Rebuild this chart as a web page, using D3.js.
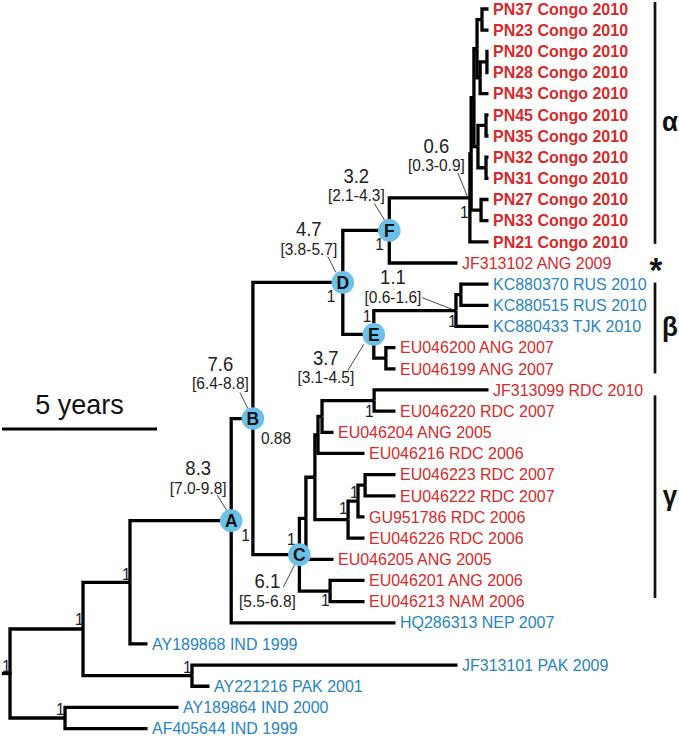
<!DOCTYPE html>
<html><head><meta charset="utf-8">
<script src="https://cdn.jsdelivr.net/npm/d3@7"></script>
<style>body{margin:0;background:#fff} svg{display:block}</style>
</head><body><svg id="chart" width="679" height="737"></svg>
<script>
// ---------------- DATA ----------------
const tipNames = [
  "PN37 Congo 2010","PN23 Congo 2010","PN20 Congo 2010","PN28 Congo 2010","PN43 Congo 2010",
  "PN45 Congo 2010","PN35 Congo 2010","PN32 Congo 2010","PN31 Congo 2010","PN27 Congo 2010",
  "PN33 Congo 2010","PN21 Congo 2010","JF313102 ANG 2009","KC880370 RUS 2010","KC880515 RUS 2010",
  "KC880433 TJK 2010","EU046200 ANG 2007","EU046199 ANG 2007","JF313099 RDC 2010","EU046220 RDC 2007",
  "EU046204 ANG 2005","EU046216 RDC 2006","EU046223 RDC 2007","EU046222 RDC 2007","GU951786 RDC 2006",
  "EU046226 RDC 2006","EU046205 ANG 2005","EU046201 ANG 2006","EU046213 NAM 2006","HQ286313 NEP 2007",
  "AY189868 IND 1999","JF313101 PAK 2009","AY221216 PAK 2001","AY189864 IND 2000","AF405644 IND 1999"
];
const tipYears = [
  2010,2010,2010,2010,2010, 2010,2010,2010,2010,2010,
  2010,2010,2009,2010,2010, 2010,2007,2007,2010,2007,
  2005,2006,2007,2007,2006, 2006,2005,2006,2006,2007,
  1999,2009,2001,2000,1999
];
const tipParents = [
  "n37_23","n37_23","n20_28","n20_28","n2043",
  "n45_35","n45_35","n32_31","n32_31","H",
  "H","alpha","F","KC2","KC2",
  "KC","EE","EE","Q","Q",
  "P","R","S3","S3","S2",
  "S","U","V","V","A",
  "N2","N4","N4","N5","N5"
];
const tipGroups = [
  "congo","congo","congo","congo","congo","congo","congo","congo","congo","congo",
  "congo","congo","red","blue","blue","blue","red","red","red","red",
  "red","red","red","red","red","red","red","red","red","blue",
  "blue","blue","blue","blue","blue"
];
const nodeIds     = ["root","Ntop","N5","N2","N4","A","B","C","D","E","F","alpha","X","G1","G2","n37_23","n2043","n20_28","G3","n45_35","n32_31","H","KC","KC2","EE","U","T","R","P","Q","S","S2","S3","V"];
const nodeParents = ["",    "root","root","Ntop","Ntop","N2","A","B","B","D","D","F","alpha","X","G1","G2","G2","n2043","G1","G3","G3","X","E","KC","E","C","U","T","R","P","T","S","S2","C"];
const nodeYears   = [1994.565,1996.92,1996.34,1998.435,2000.435,2001.7,2002.4,2003.9,2005.3,2006.3,2006.8,2009.4,2009.44,2009.53,2009.63,2009.79,2009.73,2009.95,2009.66,2009.92,2009.92,2009.76,2008.95,2009.11,2006.69,2004.11,2004.4,2004.5,2004.63,2006.31,2005.47,2005.79,2006.02,2004.89];

const circleNodes = ["A","B","C","D","E","F"];
const ageNodes = ["alpha","F","D","KC","E","B","A","C"];
const ageMeans = ["0.6","3.2","4.7","1.1","3.7","7.6","8.3","6.1"];
const ageHPD   = ["[0.3-0.9]","[2.1-4.3]","[3.8-5.7]","[0.6-1.6]","[3.1-4.5]","[6.4-8.8]","[7.0-9.8]","[5.5-6.8]"];
const supportNodes  = ["root","Ntop","N5","N2","N4","A","B","C","D","E","F","KC","alpha","Q","S","S2","V"];
const supportValues = ["1","1","1","1","1","1","0.88","1","1","1","1","1","1","1","1","1","1"];
const cladeNames = ["α","*","β","γ"];
const cladeFirst = ["PN37 Congo 2010","JF313102 ANG 2009","KC880370 RUS 2010","JF313099 RDC 2010"];
const cladeLast  = ["PN21 Congo 2010","JF313102 ANG 2009","EU046199 ANG 2007","EU046213 NAM 2006"];
const scaleYears = 5;
const scaleLabel = "5 years";
const rootStubYear = 1994.3;

// ---------------- LAYOUT / STYLE ----------------
const FONT = "'Liberation Sans', Arial, Helvetica, sans-serif";
const VS = 1.05;
const colors = {congo:"#d52b2b", red:"#d52b2b", blue:"#2784c4", circle:"#6dc0ea"};
const ageLayout = {
  alpha:{mx:-33.5,my:-45,hy:-27,l:[-12,-25,-2,0]},
  F:{mx:-33,my:-47,hy:-29,l:[-15,-27,-4,-9]},
  D:{mx:-34,my:-46,hy:-27,l:[-15,-26,-7,-10]},
  KC:{mx:-63,my:-27,hy:-8,l:[-34,-13,-3,-1]},
  E:{mx:-48,my:31,hy:49,l:[-26,36,-10,10]},
  B:{mx:-32.5,my:-48,hy:-30,l:[-13,-26,-5,-10]},
  A:{mx:-33,my:-45.5,hy:-26.5,l:[-14,-25.5,-4,-9.5]},
  C:{mx:-32,my:33.5,hy:52.5,l:[-16,32.5,-4,8.5]}
};
const supportLayout = {root:[-8,-1.5],Ntop:[-8,-4],N5:[-9,-3],N2:[-8,-2],N4:[-9,-3],A:[10,20.5],B:[8,25],C:[-12.5,-9.5],D:[-16,20],E:[-11,-12],F:[-14,20],KC:[-8,16],alpha:[-10,20],Q:[-9,16],S:[-9,-6],S2:[-8,-3],V:[-9,15]};
const cladeLayout = [{x:655,pad:[-7,2]},{x:655,pad:null},{x:655,pad:[-1.6,4.6]},{x:655,pad:[5.4,-3.6]}];

// ---------------- BUILD ----------------
const rows = nodeIds.map((id,i)=>({id, parent: nodeParents[i] || null, year: nodeYears[i]}))
  .concat(tipNames.map((id,i)=>({id, parent: tipParents[i], year: tipYears[i], group: tipGroups[i], idx:i})));
const root = d3.stratify().id(d=>d.id).parentId(d=>d.parent)(rows);
const tipIndex = new Map(tipNames.map((n,i)=>[n,i]));
root.sort((a,b)=> d3.min(a.leaves(),l=>tipIndex.get(l.id)) - d3.min(b.leaves(),l=>tipIndex.get(l.id)));

const xScale = d3.scaleLinear().domain([2000,2010]).range([178.5,488.5]);
const yScale = d3.scaleLinear().domain([0,tipNames.length-1]).range([9,728.6]);

root.eachAfter(n=>{
  n.px = xScale(n.data.year);
  if(!n.children) n.py = yScale(tipIndex.get(n.id));
  else n.py = (n.children[0].py + n.children[n.children.length-1].py)/2;
});
const byId = new Map(root.descendants().map(n=>[n.id,n]));

const svg = d3.select("#chart");
const g = svg.append("g");

function txt(parent, x, y, str, o){
  const t = parent.append("text")
    .attr("transform",`translate(${x},${y}) scale(1,${VS})`)
    .attr("font-family",FONT).attr("font-size",o.size).attr("fill",o.fill||"#222")
    .attr("font-weight",o.weight||"normal").attr("text-anchor",o.anchor||"start")
    .text(str);
  if(o.dy) t.attr("dy",o.dy);
  return t;
}

// branches
g.append("g").selectAll("path").data(root.descendants().filter(n=>n.parent))
  .join("path")
  .attr("d", n=>`M${n.parent.px},${n.parent.py}V${n.py}H${n.px}`)
  .attr("fill","none").attr("stroke","#000").attr("stroke-width",3.3)
  .attr("stroke-linejoin","miter").attr("stroke-linecap","butt");
g.append("line").attr("x1",xScale(rootStubYear)).attr("x2",root.px+1.6)
  .attr("y1",root.py).attr("y2",root.py).attr("stroke","#000").attr("stroke-width",3.3);

// tip labels
const tl = g.append("g");
root.leaves().forEach(n=>{
  txt(tl, n.px+4.5, n.py, n.id, {size:16, dy:"0.34em",
    weight: n.data.group==="congo"?"bold":"normal", fill: colors[n.data.group]});
});

// support values
const sl = g.append("g");
supportNodes.forEach((id,i)=>{
  const n = byId.get(id);
  txt(sl, n.px+supportLayout[id][0], n.py+supportLayout[id][1], supportValues[i], {size:15.5});
});

// age annotations
const ag = g.append("g");
ageNodes.forEach((id,i)=>{
  const n = byId.get(id), L = ageLayout[id];
  ag.append("line").attr("x1",n.px+L.l[0]).attr("y1",n.py+L.l[1]).attr("x2",n.px+L.l[2]).attr("y2",n.py+L.l[3])
    .attr("stroke","#333").attr("stroke-width",0.9);
  txt(ag, n.px+L.mx, n.py+L.my, ageMeans[i], {size:18.5, anchor:"middle"});
  txt(ag, n.px+L.mx, n.py+L.hy, ageHPD[i], {size:15.5, anchor:"middle"});
});

// node circles
const cg = g.append("g").selectAll("g").data(circleNodes.map(id=>byId.get(id))).join("g")
  .attr("transform",n=>`translate(${n.px},${n.py})`);
cg.append("circle").attr("r",11.3).attr("fill",colors.circle);
cg.each(function(n){ txt(d3.select(this), 0, 0, n.id, {size:17.5, weight:"bold", anchor:"middle", dy:"0.36em", fill:"#111"}); });

// clade bars and labels
cladeNames.forEach((name,i)=>{
  const y1 = yScale(tipIndex.get(cladeFirst[i])), y2 = yScale(tipIndex.get(cladeLast[i]));
  const L = cladeLayout[i];
  if(L.pad){
    const a = y1+L.pad[0], b = y2+L.pad[1];
    g.append("line").attr("x1",L.x).attr("x2",L.x).attr("y1",a).attr("y2",b)
      .attr("stroke","#111").attr("stroke-width",2.7);
    txt(g, L.x+15, (a+b)/2, name, {size:26, weight:"bold", anchor:"middle", dy:"0.3em", fill:"#111"});
  } else {
    txt(g, L.x+1, y1+19, name, {size:33, weight:"bold", anchor:"middle", fill:"#111"});
  }
});

// scale bar
const sbX0 = 2, sbX1 = sbX0 + (xScale(2000+scaleYears)-xScale(2000));
g.append("line").attr("x1",sbX0).attr("x2",sbX1).attr("y1",429).attr("y2",429)
  .attr("stroke","#000").attr("stroke-width",3);
txt(g, (sbX0+sbX1)/2, 414, scaleLabel, {size:27, anchor:"middle", fill:"#111"});
</script>
</body></html>
